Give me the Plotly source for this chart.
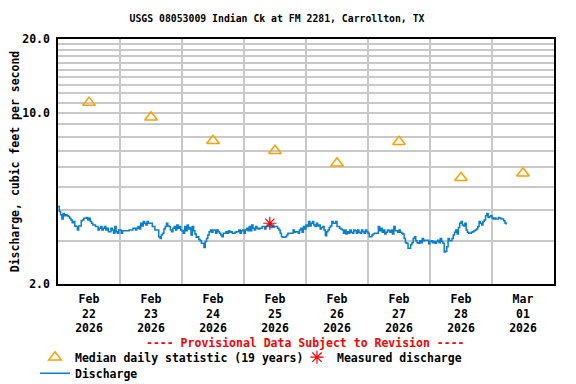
import pandas as pd
import plotly.graph_objects as go

# half-hourly discharge (cfs)
feb22 = [4.14, 3.95, 3.83, 3.68, 3.88, 3.80, 3.83, 3.80, 3.77, 3.71, 3.65, 3.56,
         3.60, 3.45, 3.43, 3.32, 3.45, 3.45, 3.62, 3.65, 3.71, 3.71, 3.74, 3.65,
         3.71, 3.60, 3.54, 3.48, 3.48, 3.43, 3.43, 3.32, 3.38, 3.43, 3.32, 3.38,
         3.43, 3.32, 3.38, 3.27, 3.27, 3.38, 3.32, 3.22, 3.43, 3.27, 3.22, 3.32]
feb23 = [3.32, 3.22, 3.30, 3.30, 3.30, 3.30, 3.30, 3.32, 3.32, 3.32, 3.38, 3.38,
         3.32, 3.38, 3.43, 3.35, 3.54, 3.45, 3.60, 3.54, 3.48, 3.60, 3.54, 3.54,
         3.54, 3.43, 3.43, 3.32, 3.32, 3.32, 3.12, 3.07, 3.17, 3.22, 3.35, 3.43,
         3.54, 3.45, 3.43, 3.32, 3.27, 3.38, 3.43, 3.32, 3.48, 3.38, 3.43, 3.32]
feb24 = [3.30, 3.22, 3.43, 3.30, 3.48, 3.35, 3.40, 3.17, 3.43, 3.30, 3.20, 3.10,
         3.12, 3.04, 3.00, 2.93, 2.93, 2.82, 2.98, 3.07, 3.17, 3.27, 3.32, 3.25,
         3.32, 3.32, 3.22, 3.32, 3.27, 3.22, 3.17, 3.12, 3.22, 3.22, 3.27, 3.22,
         3.30, 3.25, 3.27, 3.22, 3.22, 3.25, 3.27, 3.27, 3.32, 3.22, 3.30, 3.32]
feb25 = [3.22, 3.32, 3.38, 3.30, 3.43, 3.30, 3.48, 3.38, 3.32, 3.43, 3.38, 3.35,
         3.38, 3.38, 3.43, 3.43, 3.35, 3.43, 3.48, 3.43, 3.54, 3.40, 3.48, 3.43,
         3.43, 3.43, 3.38, 3.32, 3.22, 3.12, 3.10, 3.10, 3.12, 3.17, 3.22, 3.22,
         3.22, 3.22, 3.32, 3.25, 3.27, 3.27, 3.22, 3.32, 3.38, 3.25, 3.43, 3.35]
feb26 = [3.48, 3.43, 3.60, 3.45, 3.54, 3.60, 3.48, 3.43, 3.54, 3.45, 3.48, 3.35,
         3.40, 3.43, 3.32, 3.15, 3.27, 3.32, 3.40, 3.45, 3.60, 3.54, 3.54, 3.60,
         3.43, 3.43, 3.38, 3.35, 3.32, 3.22, 3.32, 3.20, 3.27, 3.22, 3.32, 3.25,
         3.22, 3.32, 3.30, 3.22, 3.32, 3.25, 3.22, 3.32, 3.27, 3.22, 3.32, 3.27]
feb27 = [3.22, 3.12, 3.12, 3.17, 3.20, 3.22, 3.22, 3.22, 3.43, 3.30, 3.38, 3.25,
         3.32, 3.20, 3.25, 3.32, 3.30, 3.25, 3.32, 3.20, 3.43, 3.30, 3.30, 3.25,
         3.32, 3.25, 3.22, 3.20, 3.07, 2.95, 2.93, 2.80, 2.80, 2.89, 2.95, 3.07,
         3.12, 3.00, 2.95, 2.93, 3.00, 2.95, 3.07, 3.00, 3.02, 3.02, 3.02, 2.92]
feb28 = [2.98, 3.00, 2.95, 2.98, 2.93, 2.98, 3.02, 2.95, 3.07, 2.98, 2.93, 2.70,
         2.72, 2.84, 3.07, 3.00, 3.00, 3.07, 3.17, 3.25, 3.32, 3.20, 3.40, 3.54,
         3.60, 3.48, 3.45, 3.54, 3.32, 3.25, 3.22, 3.22, 3.25, 3.27, 3.30, 3.32,
         3.35, 3.43, 3.60, 3.54, 3.48, 3.60, 3.65, 3.80, 3.88, 3.74, 3.77, 3.80]
mar01 = [3.72, 3.68, 3.72, 3.68, 3.68, 3.74, 3.72, 3.68, 3.68, 3.62, 3.55, 3.50]

discharge = feb22 + feb23 + feb24 + feb25 + feb26 + feb27 + feb28 + mar01
times = pd.date_range("2026-02-22 00:00", periods=len(discharge), freq="30min")

median_days = ["2026-02-22 12:00", "2026-02-23 12:00", "2026-02-24 12:00", "2026-02-25 12:00",
               "2026-02-26 12:00", "2026-02-27 12:00", "2026-02-28 12:00", "2026-03-01 12:00"]
median_vals = [11.0, 9.58, 7.69, 7.0, 6.22, 7.62, 5.43, 5.66]

measured_time = ["2026-02-25 10:00"]
measured_val = [3.54]

tick_text = ["Feb<br>22<br>2026", "Feb<br>23<br>2026", "Feb<br>24<br>2026", "Feb<br>25<br>2026",
             "Feb<br>26<br>2026", "Feb<br>27<br>2026", "Feb<br>28<br>2026", "Mar<br>01<br>2026"]

y_ticks = list(range(2, 21))
y_text = ["2.0" if v == 2 else "10.0" if v == 10 else "20.0" if v == 20 else "" for v in y_ticks]

FONT = "DejaVu Sans Mono"
GRID = "#c8c8c8"
FS = 11.5

fig = go.Figure()
fig.add_trace(go.Scatter(
    x=times, y=discharge, mode="lines", line=dict(color="#0a7fd0", width=1.5, shape="hv"),
    name="Discharge", legend="legend2",
))
fig.add_trace(go.Scatter(
    x=median_days, y=median_vals, mode="markers", name="Median daily statistic (19 years)",
    marker=dict(symbol="triangle-up-open", size=11, color="#ffa000", line=dict(width=1.5)),
    legendrank=1,
))
fig.add_trace(go.Scatter(
    x=measured_time, y=measured_val, mode="markers", name="Measured discharge",
    marker=dict(symbol="asterisk-open", size=11, color="#ff0000", line=dict(width=1.2, color="#ff0000")),
    legendrank=2,
))

# the page puts the figure 8px in from the top-left corner
fig.update_layout(
    width=576, height=384,
    margin=dict(l=50, r=30, t=31, b=108, autoexpand=False),
    paper_bgcolor="white", plot_bgcolor="white",
    font=dict(family=FONT, size=FS, color="black", weight="bold"),
    title=dict(text="USGS 08053009 Indian Ck at FM 2281, Carrollton, TX", xref="container",
               x=269 / 576, xanchor="center", yref="container", y=1 - 11 / 384, yanchor="middle",
               font=dict(family=FONT, size=9.8, color="black", weight="bold")),
    xaxis=dict(
        range=["2026-02-22 00:00", "2026-03-02 00:00"], automargin=False,
        tickvals=median_days, ticktext=tick_text, ticks="", showgrid=False, ticklabelstandoff=3,
        minor=dict(dtick=86400000, tick0="2026-02-22", showgrid=True, gridcolor=GRID, gridwidth=1.5),
        showline=True, mirror=True, linecolor="black", linewidth=1.5, zeroline=False,
        tickfont=dict(family=FONT, size=FS, weight="bold"),
    ),
    yaxis=dict(
        type="log", range=[0.30103, 1.30103], automargin=False,
        tickvals=y_ticks, ticktext=y_text, ticks="", ticklabelstandoff=4,
        showgrid=True, gridcolor=GRID, gridwidth=1.5,
        showline=True, mirror=True, linecolor="black", linewidth=1.5, zeroline=False,
        title=dict(text="Discharge, cubic feet per second", standoff=10,
                   font=dict(family=FONT, size=FS, weight="bold")),
    ),
    showlegend=True,
    legend=dict(orientation="h", x=-0.0464, y=-0.2396, xanchor="left", yanchor="top",
                entrywidth=217,
                font=dict(family=FONT, size=FS, weight="bold"), bgcolor="rgba(0,0,0,0)"),
    legend2=dict(orientation="h", x=-0.0464, y=-0.305, xanchor="left", yanchor="top",
                 font=dict(family=FONT, size=FS, weight="bold"), bgcolor="rgba(0,0,0,0)"),
    annotations=[dict(text="---- Provisional Data Subject to Revision ----", xref="paper",
                      yref="paper", x=0.499, y=-0.2396, xanchor="center",
                      yanchor="middle", showarrow=False,
                      font=dict(family=FONT, size=FS, color="#ff0000", weight="bold"))],
)

fig.write_html("out.html")
